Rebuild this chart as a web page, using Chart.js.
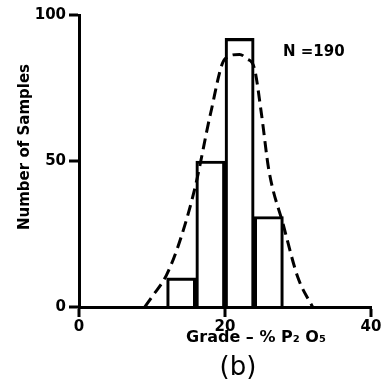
<!DOCTYPE html>
<html>
<head>
<meta charset="utf-8">
<script src="https://cdn.jsdelivr.net/npm/chart.js@4.4.1/dist/chart.umd.min.js"></script>
<style>
  html, body { margin: 0; padding: 0; background: #fff; }
  #wrap { width: 383px; height: 390px; }
</style>
</head>
<body>
<div id="wrap"><canvas id="gradeHist" width="383" height="390"></canvas></div>
<script>
// histogram bins (grade, % P2O5) and sample counts
const binEdges = [12, 16, 20, 24, 28];
const counts = [10, 50, 92, 31];

// fitted normal curve
const curveGrade = [9, 10, 12, 14, 16, 18, 20, 22, 23, 24, 25, 26, 28, 30, 32];
const curveCount = [0, 3.5, 11, 24, 42, 66, 85, 86.5, 85, 82, 66, 47, 28, 10, 0];

const xTicks = [0, 20, 40];
const yTicks = [0, 50, 100];
const sampleCount = 190;

const barData = counts.map((c, i) => ({ x: (binEdges[i] + binEdges[i + 1]) / 2, y: c }));
const curveData = curveGrade.map((g, i) => ({ x: g, y: curveCount[i] }));

const tickFont = { family: '"DejaVu Sans"', size: 15, weight: 'bold' };
const axisGrid = {
  drawOnChartArea: false, drawTicks: true, tickLength: 10,
  color: '#000', lineWidth: 2, tickColor: '#000', tickWidth: 3, offset: false
};

// axis titles, caption and the N label
const labels = {
  id: 'labels',
  afterDraw(chart) {
    const { ctx, chartArea: a } = chart;
    ctx.save();
    ctx.fillStyle = '#000';
    ctx.textBaseline = 'middle';

    ctx.save();
    ctx.translate(25, a.top + 132);
    ctx.rotate(-Math.PI / 2);
    ctx.textAlign = 'center';
    ctx.font = 'bold 15px "DejaVu Sans"';
    ctx.fillText('Number of Samples', 0, 0);
    ctx.restore();

    ctx.textAlign = 'center';
    ctx.font = 'bold 16px "DejaVu Sans"';
    ctx.fillText('Grade – % P\u2082 O\u2085', (a.left + a.right) / 2 + 31, a.bottom + 31);

    ctx.font = '26px "DejaVu Sans"';
    ctx.fillText('(b)', (a.left + a.right) / 2 + 13, a.bottom + 61);

    ctx.textAlign = 'left';
    ctx.font = 'bold 15px "DejaVu Sans"';
    ctx.fillText('N =' + sampleCount, 283, a.top + 37);
    ctx.restore();
  }
};

new Chart(document.getElementById('gradeHist'), {
  type: 'bar',
  data: {
    datasets: [
      {
        type: 'line',
        data: curveData,
        borderColor: '#000',
        borderWidth: 3,
        borderDash: [11, 6],
        cubicInterpolationMode: 'monotone',
        pointRadius: 0,
        fill: false,
        order: 0
      },
      {
        type: 'bar',
        data: barData,
        backgroundColor: 'rgba(0,0,0,0)',
        borderColor: '#000',
        borderWidth: 2.5,
        borderSkipped: 'start',
        barPercentage: 1,
        categoryPercentage: 1,
        order: 1
      }
    ]
  },
  options: {
    responsive: false,
    animation: false,
    layout: { padding: { top: 15, right: 12, left: 0, bottom: 0 } },
    plugins: { legend: { display: false }, tooltip: { enabled: false } },
    scales: {
      x: {
        type: 'linear',
        offset: false,
        min: xTicks[0],
        max: xTicks[xTicks.length - 1],
        afterBuildTicks: s => { s.ticks = xTicks.map(v => ({ value: v })); },
        afterFit: s => { s.height = 83; },
        ticks: { color: '#000', font: tickFont, padding: 1, maxRotation: 0 },
        grid: axisGrid,
        border: { color: '#000', width: 3 }
      },
      y: {
        min: yTicks[0],
        max: yTicks[yTicks.length - 1],
        afterBuildTicks: s => { s.ticks = yTicks.map(v => ({ value: v })); },
        afterFit: s => { s.width = 79; },
        ticks: { color: '#000', font: tickFont, padding: 3 },
        grid: axisGrid,
        border: { color: '#000', width: 3 }
      }
    }
  },
  plugins: [labels]
});
</script>
</body>
</html>
